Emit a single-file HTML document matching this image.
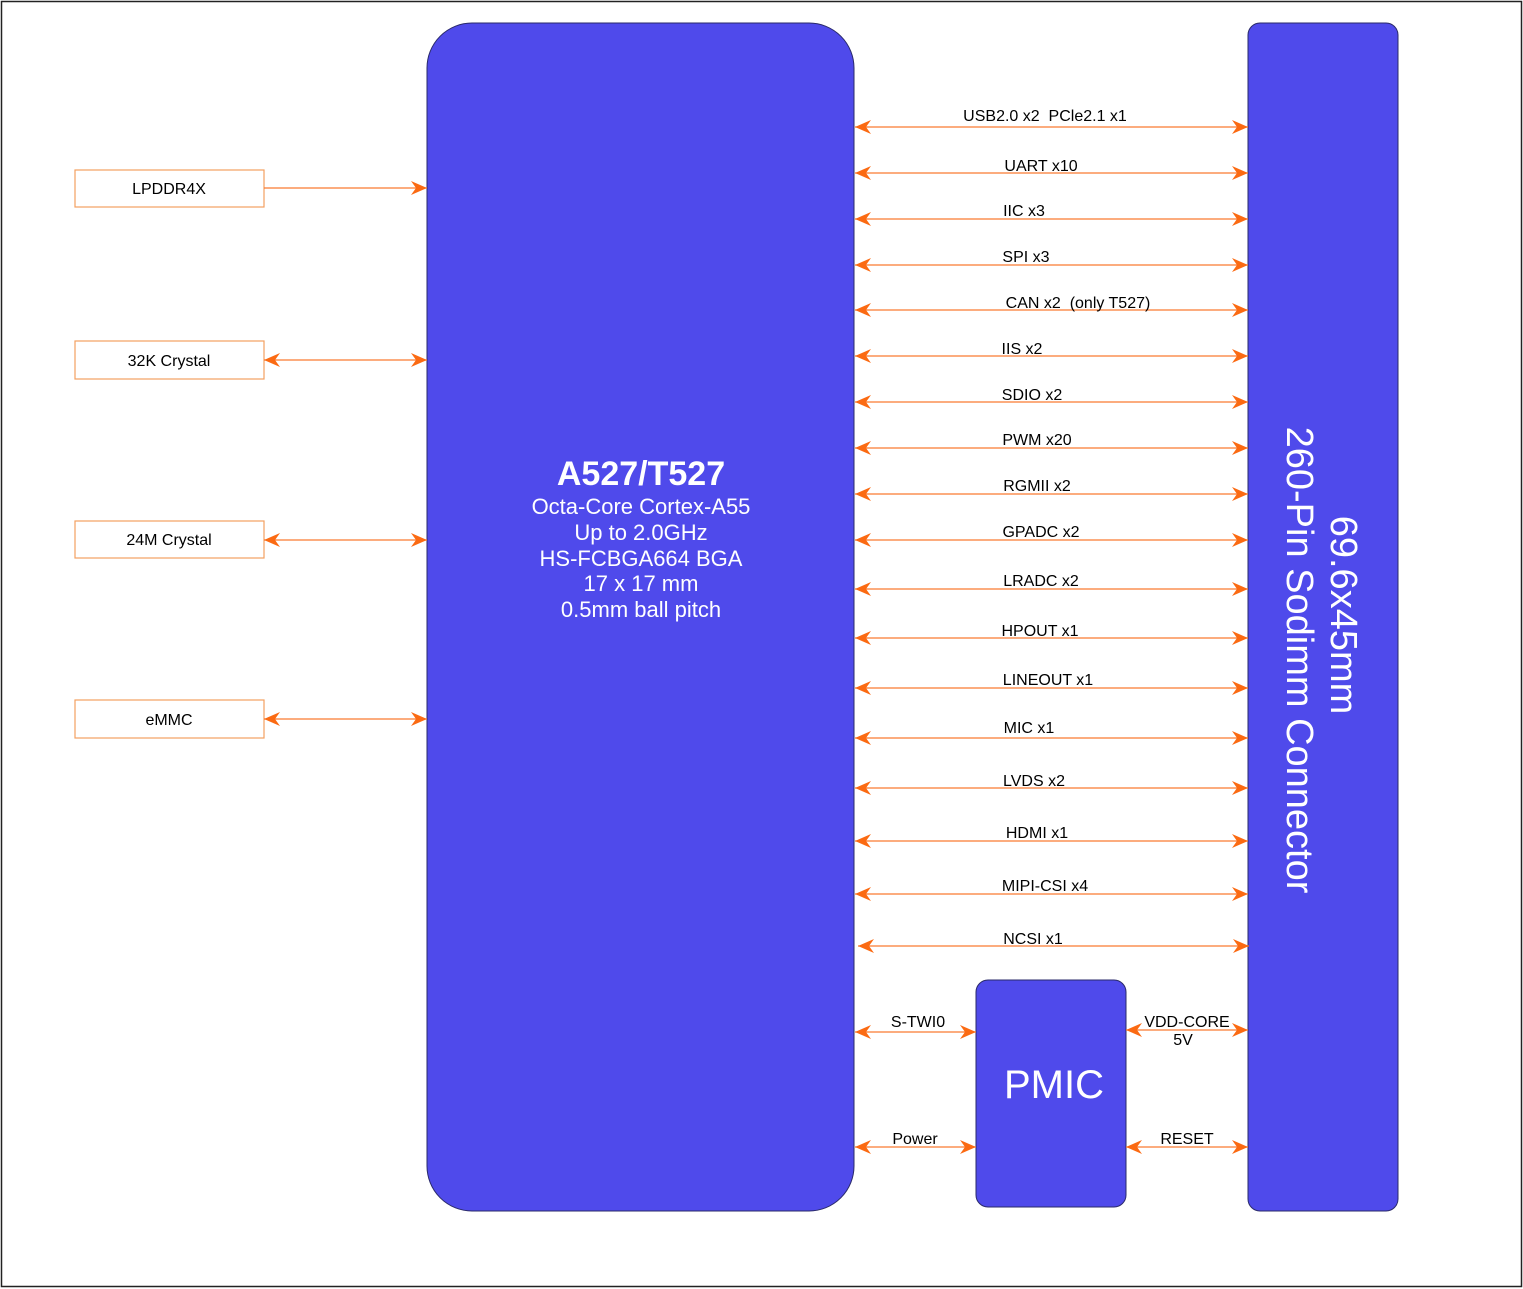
<!DOCTYPE html>
<html><head><meta charset="utf-8"><style>
html,body{margin:0;padding:0;background:#fff}
svg{display:block}
text{font-family:"Liberation Sans",sans-serif}
</style></head><body>
<svg width="1523" height="1289" viewBox="0 0 1523 1289" xmlns="http://www.w3.org/2000/svg">
<defs>
<marker id="ae" markerWidth="16" markerHeight="14" refX="16" refY="7" orient="auto" markerUnits="userSpaceOnUse"><path d="M0,0 L16,7 L0,14 L5,7 Z" fill="#fb6a12"/></marker>
<marker id="as" markerWidth="16" markerHeight="14" refX="0" refY="7" orient="auto" markerUnits="userSpaceOnUse"><path d="M16,0 L0,7 L16,14 L11,7 Z" fill="#fb6a12"/></marker>
</defs>
<rect x="1.5" y="1.5" width="1520" height="1285" fill="#fff" stroke="#222" stroke-width="1.5"/>
<rect x="427" y="23" width="427" height="1188" rx="45" fill="#4f4aeb" stroke="#2a2a6a" stroke-width="1"/>
<rect x="1248" y="23" width="150" height="1188" rx="12" fill="#4f4aeb" stroke="#2a2a6a" stroke-width="1"/>
<rect x="976" y="980" width="150" height="227" rx="12" fill="#4f4aeb" stroke="#2a2a6a" stroke-width="1"/>
<g fill="#fff" text-anchor="middle">
<text x="641" y="485" font-size="34" font-weight="bold">A527/T527</text>
<text x="641" y="514" font-size="22">Octa-Core Cortex-A55</text>
<text x="641" y="540" font-size="22">Up to 2.0GHz</text>
<text x="641" y="566" font-size="22">HS-FCBGA664 BGA</text>
<text x="641" y="591" font-size="22">17 x 17 mm</text>
<text x="641" y="617" font-size="22">0.5mm ball pitch</text>
<text x="1054" y="1098" font-size="40">PMIC</text>
<text transform="translate(1331,615) rotate(90)" font-size="38">69.6x45mm</text>
<text transform="translate(1287,660) rotate(90)" font-size="38">260-Pin Sodimm Connector</text>
</g>
<g fill="#fff" stroke="#f4a060" stroke-width="1.2">
<rect x="75" y="170" width="189" height="37"/>
<rect x="75" y="341" width="189" height="38"/>
<rect x="75" y="521" width="189" height="37"/>
<rect x="75" y="700" width="189" height="38"/>
</g>
<g font-size="16" text-anchor="middle" fill="#000">
<text x="169" y="194">LPDDR4X</text>
<text x="169" y="366">32K Crystal</text>
<text x="169" y="545">24M Crystal</text>
<text x="169" y="725">eMMC</text>
</g>
<g stroke="#fb7a30" stroke-width="1.3" fill="none">
<line x1="264" y1="188" x2="427" y2="188" marker-end="url(#ae)"/>
<line x1="264" y1="360" x2="427" y2="360" marker-start="url(#as)" marker-end="url(#ae)"/>
<line x1="264" y1="540" x2="427" y2="540" marker-start="url(#as)" marker-end="url(#ae)"/>
<line x1="264" y1="719" x2="427" y2="719" marker-start="url(#as)" marker-end="url(#ae)"/>
<line x1="855" y1="127" x2="1248" y2="127" marker-start="url(#as)" marker-end="url(#ae)"/>
<line x1="855" y1="173" x2="1248" y2="173" marker-start="url(#as)" marker-end="url(#ae)"/>
<line x1="855" y1="219" x2="1248" y2="219" marker-start="url(#as)" marker-end="url(#ae)"/>
<line x1="855" y1="265" x2="1248" y2="265" marker-start="url(#as)" marker-end="url(#ae)"/>
<line x1="855" y1="310" x2="1248" y2="310" marker-start="url(#as)" marker-end="url(#ae)"/>
<line x1="855" y1="356" x2="1248" y2="356" marker-start="url(#as)" marker-end="url(#ae)"/>
<line x1="855" y1="402" x2="1248" y2="402" marker-start="url(#as)" marker-end="url(#ae)"/>
<line x1="855" y1="448" x2="1248" y2="448" marker-start="url(#as)" marker-end="url(#ae)"/>
<line x1="855" y1="494" x2="1248" y2="494" marker-start="url(#as)" marker-end="url(#ae)"/>
<line x1="855" y1="540" x2="1248" y2="540" marker-start="url(#as)" marker-end="url(#ae)"/>
<line x1="855" y1="589" x2="1248" y2="589" marker-start="url(#as)" marker-end="url(#ae)"/>
<line x1="855" y1="638" x2="1248" y2="638" marker-start="url(#as)" marker-end="url(#ae)"/>
<line x1="855" y1="688" x2="1248" y2="688" marker-start="url(#as)" marker-end="url(#ae)"/>
<line x1="855" y1="738" x2="1248" y2="738" marker-start="url(#as)" marker-end="url(#ae)"/>
<line x1="855" y1="788" x2="1248" y2="788" marker-start="url(#as)" marker-end="url(#ae)"/>
<line x1="855" y1="841" x2="1248" y2="841" marker-start="url(#as)" marker-end="url(#ae)"/>
<line x1="855" y1="894" x2="1248" y2="894" marker-start="url(#as)" marker-end="url(#ae)"/>
<line x1="858" y1="946" x2="1249" y2="946" marker-start="url(#as)" marker-end="url(#ae)"/>
<line x1="855" y1="1032" x2="976" y2="1032" marker-start="url(#as)" marker-end="url(#ae)"/>
<line x1="855" y1="1147" x2="976" y2="1147" marker-start="url(#as)" marker-end="url(#ae)"/>
<line x1="1126" y1="1030" x2="1248" y2="1030" marker-start="url(#as)" marker-end="url(#ae)"/>
<line x1="1126" y1="1147" x2="1248" y2="1147" marker-start="url(#as)" marker-end="url(#ae)"/>
</g>
<g font-size="16" text-anchor="middle" fill="#000">
<text x="1045" y="121">USB2.0 x2&#160;&#160;PCle2.1 x1</text>
<text x="1041" y="171">UART x10</text>
<text x="1024" y="216">IIC x3</text>
<text x="1026" y="262">SPI x3</text>
<text x="1078" y="308">CAN x2&#160;&#160;(only T527)</text>
<text x="1022" y="354">IIS x2</text>
<text x="1032" y="400">SDIO x2</text>
<text x="1037" y="445">PWM x20</text>
<text x="1037" y="491">RGMII x2</text>
<text x="1041" y="537">GPADC x2</text>
<text x="1041" y="586">LRADC x2</text>
<text x="1040" y="636">HPOUT x1</text>
<text x="1048" y="685">LINEOUT x1</text>
<text x="1029" y="733">MIC x1</text>
<text x="1034" y="786">LVDS x2</text>
<text x="1037" y="838">HDMI x1</text>
<text x="1045" y="891">MIPI-CSI x4</text>
<text x="1033" y="944">NCSI x1</text>
<text x="918" y="1027">S-TWI0</text>
<text x="915" y="1144">Power</text>
<text x="1187" y="1027">VDD-CORE</text>
<text x="1183" y="1045">5V</text>
<text x="1187" y="1144">RESET</text>
</g>
</svg>
</body></html>
